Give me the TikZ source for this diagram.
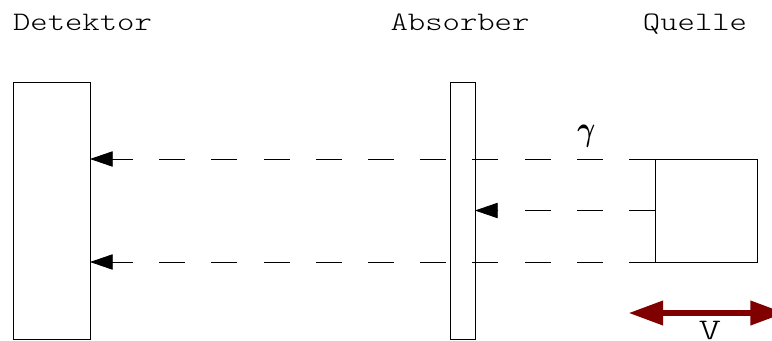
\documentclass[tikz,border=0pt]{standalone}
\usepackage{amsmath}
\usepackage{bm}
\usepackage{graphicx}
\usepackage{tikz}
\usetikzlibrary{arrows.meta, positioning}

\newcommand{\lbltext}[1]{\scalebox{1.24}[1]{\fontseries{l}\ttfamily\fontsize{20}{20}\selectfont #1}}

\begin{document}
\begin{tikzpicture}[
	x=0.75pt, y=-0.75pt,
	every node/.style={outer sep=0pt, inner sep=0pt},
	box/.style={draw, line width=0.6pt, minimum height=192.75pt},
	lbl/.style={anchor=base},
	ray/.style={-{Triangle[length=17pt, width=11.5pt]}, line width=0.6pt,
		dash pattern=on 19.5pt off 19.65pt},
	motion/.style={{Triangle[length=26pt, width=17.5pt]}-{Triangle[length=26pt, width=17.5pt]},
		line width=4.5pt, color=darkred},
	]
	\definecolor{darkred}{RGB}{128,0,0}
	\useasboundingbox (0,0) rectangle (772,340);
	\clip (0,0) rectangle (772,340);

	% --- Detektor, Absorber, Quelle ---
	\node[box, minimum width=57.75pt] (detektor) at (51.5,210.5) {};
	\node[box, minimum width=18.75pt, right=270pt of detektor] (absorber) {};
	\node[box, minimum width=76.5pt, minimum height=77.25pt,
	right=135pt of absorber] (quelle) {};

	% --- Labels ---
	\node[lbl] (ldetektor) at (82.5,30) {\lbltext{Detektor}};
	\node[lbl] (labsorber) at (460,30) {\lbltext{Absorber}};
	\node[lbl] (lquelle) at (695,30) {\lbltext{Quelle}};
	\node (lgamma) at (586.5,136) {\scalebox{1}[1.25]{\fontsize{20}{20}\selectfont$\bm{\gamma}$}};

	% ---- ARROWS: gamma rays ----
	\draw[ray] (quelle.north west) -- (quelle.north west -| detektor.east);
	\draw[ray] (quelle.west) -- (quelle.west -| absorber.east);
	\draw[ray] (quelle.south west) -- (quelle.south west -| detektor.east);

	% ---- ARROW: velocity ----
	\coordinate (vleft) at (628.5,313);
	\coordinate (vright) at (785,313);
	\draw[motion] (vleft) -- (vright);
	\node[lbl] (lv) at (710,339) {\scalebox{1.3}[1.12]{\lbltext{V}}};
\end{tikzpicture}
\end{document}
